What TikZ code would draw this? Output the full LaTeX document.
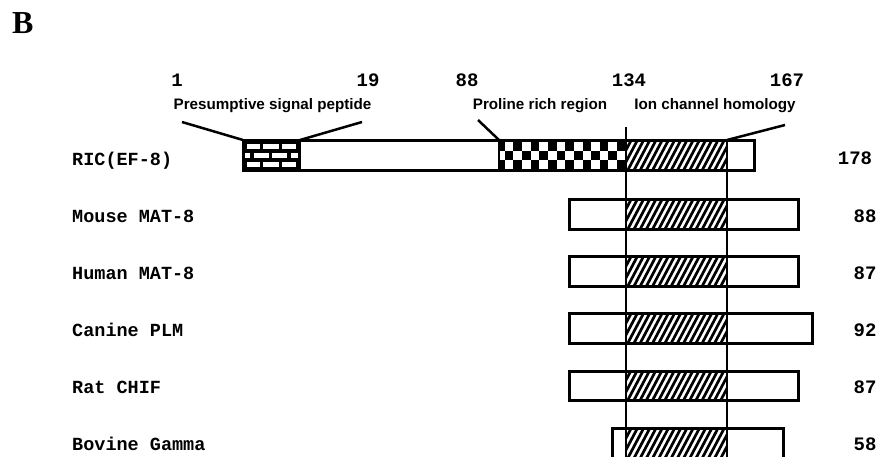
\documentclass[tikz,border=0pt]{standalone}
\usepackage{fontspec}
\setmainfont{Liberation Serif}
\setsansfont{Liberation Sans}
\setmonofont{Liberation Mono}
\tikzset{
  mono/.style={font=\ttfamily\bfseries\fontsize{18.5}{18.5}\selectfont, inner sep=0pt, anchor=base west},
  num/.style={font=\ttfamily\bfseries\fontsize{19}{19}\selectfont, inner sep=0pt, anchor=base},
  lab/.style={font=\sffamily\bfseries\fontsize{15.2}{15.2}\selectfont, inner sep=0pt, anchor=base},
  boxline/.style={line width=3pt, line join=miter},
  lead/.style={line width=2.5pt},
  vline/.style={line width=2.5pt},
  hatchline/.style={line width=2.7pt}
}
\newcommand{\myhatch}[4]{%
  \begin{scope}
    \clip (#1,#3) rectangle (#2,#4);
    \foreach \k in {-24,-17.8,...,110} {\draw[hatchline] (#1+\k,#4+2) -- ++(18,-34);}
  \end{scope}}
\begin{document}
\begin{tikzpicture}[x=1pt,y=-1pt]
\useasboundingbox[fill=white] (0,0) rectangle (880,456);

% panel letter
\node[font=\rmfamily\bfseries\fontsize{32}{32}\selectfont, inner sep=0pt, anchor=base west] (B) at (12,33) {B};

% top numbers
\node[num] (n1)   at (177,86.5) {1};
\node[num] (n19)  at (368,86.5) {19};
\node[num] (n88)  at (467,86.5) {88};
\node[num] (n134) at (629,86.5) {134};
\node[num] (n167) at (787,86.5) {167};

% region labels
\node[lab] (lsig) at (272.5,109) {Presumptive signal peptide};
\node[lab] (lpro) at (540,109) {Proline rich region};
\node[lab] (lion) at (715,109) {Ion channel homology};

% ---- RIC(EF-8) row ----
% bricks
\fill[black] (243,140) rectangle (300,170);
\foreach \a/\b in {246.5/260, 263/278.5, 282/295.5} {\fill[white] (\a,143.5) rectangle (\b,149);}
\foreach \a/\b in {245/250, 253.5/268.5, 272/287, 290.5/298} {\fill[white] (\a,152.5) rectangle (\b,158);}
\foreach \a/\b in {246.5/260, 263/278.5, 282/295.5} {\fill[white] (\a,161.5) rectangle (\b,167);}
% checkerboard
\begin{scope}
  \clip (499,140) rectangle (626,170);
  \fill[black] (499,140) rectangle (626,170);
  \foreach \i in {0,...,15} {
    \foreach \j in {0,1,2} {
      \pgfmathparse{int(mod(\i+\j,2))}
      \ifnum\pgfmathresult=1
        \fill[white] (496+\i*8.65,141.5+\j*9) rectangle ++(8.65,9);
      \fi
    }
  }
\end{scope}
\myhatch{626}{727}{140}{170}
\draw[boxline] (243,140) rectangle (754,170);
\draw[vline] (300,140) -- (300,170);
\draw[vline] (499,140) -- (499,170);
\coordinate (sigL) at (243,140);
\coordinate (sigR) at (300,140);
\coordinate (proL) at (499,140);
\coordinate (ionR) at (727,140);
\coordinate (tsig1) at (182,122);
\coordinate (tsig2) at (362,122);
\coordinate (tpro)  at (478,120);
\coordinate (tion)  at (785,125);
\draw[lead] (tsig1) -- (sigL);
\draw[lead] (tsig2) -- (sigR);
\draw[lead] (tpro) -- (proL);
\draw[lead] (tion) -- (ionR);

\node[mono] (ric) at (72,165) {RIC(EF-8)};
\node[num]  (r178) at (855,164) {178};

% ---- other rows ----
\myhatch{626}{727}{199}{229}
\draw[boxline] (569,199) rectangle (798,229);
\node[mono] (mouse) at (72,222) {Mouse MAT-8};
\node[num] (r88) at (865,222) {88};

\myhatch{626}{727}{256}{286}
\draw[boxline] (569,256) rectangle (798,286);
\node[mono] (human) at (72,279) {Human MAT-8};
\node[num] (r87a) at (865,279) {87};

\myhatch{626}{727}{313}{343}
\draw[boxline] (569,313) rectangle (812,343);
\node[mono] (canine) at (72,336.5) {Canine PLM};
\node[num] (r92) at (865,336.5) {92};

\myhatch{626}{727}{371}{400}
\draw[boxline] (569,371) rectangle (798,400);
\node[mono] (rat) at (72,393.5) {Rat CHIF};
\node[num] (r87b) at (865,393.5) {87};

\myhatch{626}{727}{428}{458}
\draw[boxline] (612,428) rectangle (783,458);
\node[mono] (bovine) at (72,450.5) {Bovine Gamma};
\node[num] (r58) at (865,450.5) {58};

% vertical guide lines
\coordinate (vtop1) at (626,127);
\coordinate (vbot1) at (626,458);
\coordinate (vtop2) at (727,140);
\coordinate (vbot2) at (727,458);
\draw[vline] (vtop1) -- (vbot1);
\draw[vline] (vtop2) -- (vbot2);
\end{tikzpicture}
\end{document}
